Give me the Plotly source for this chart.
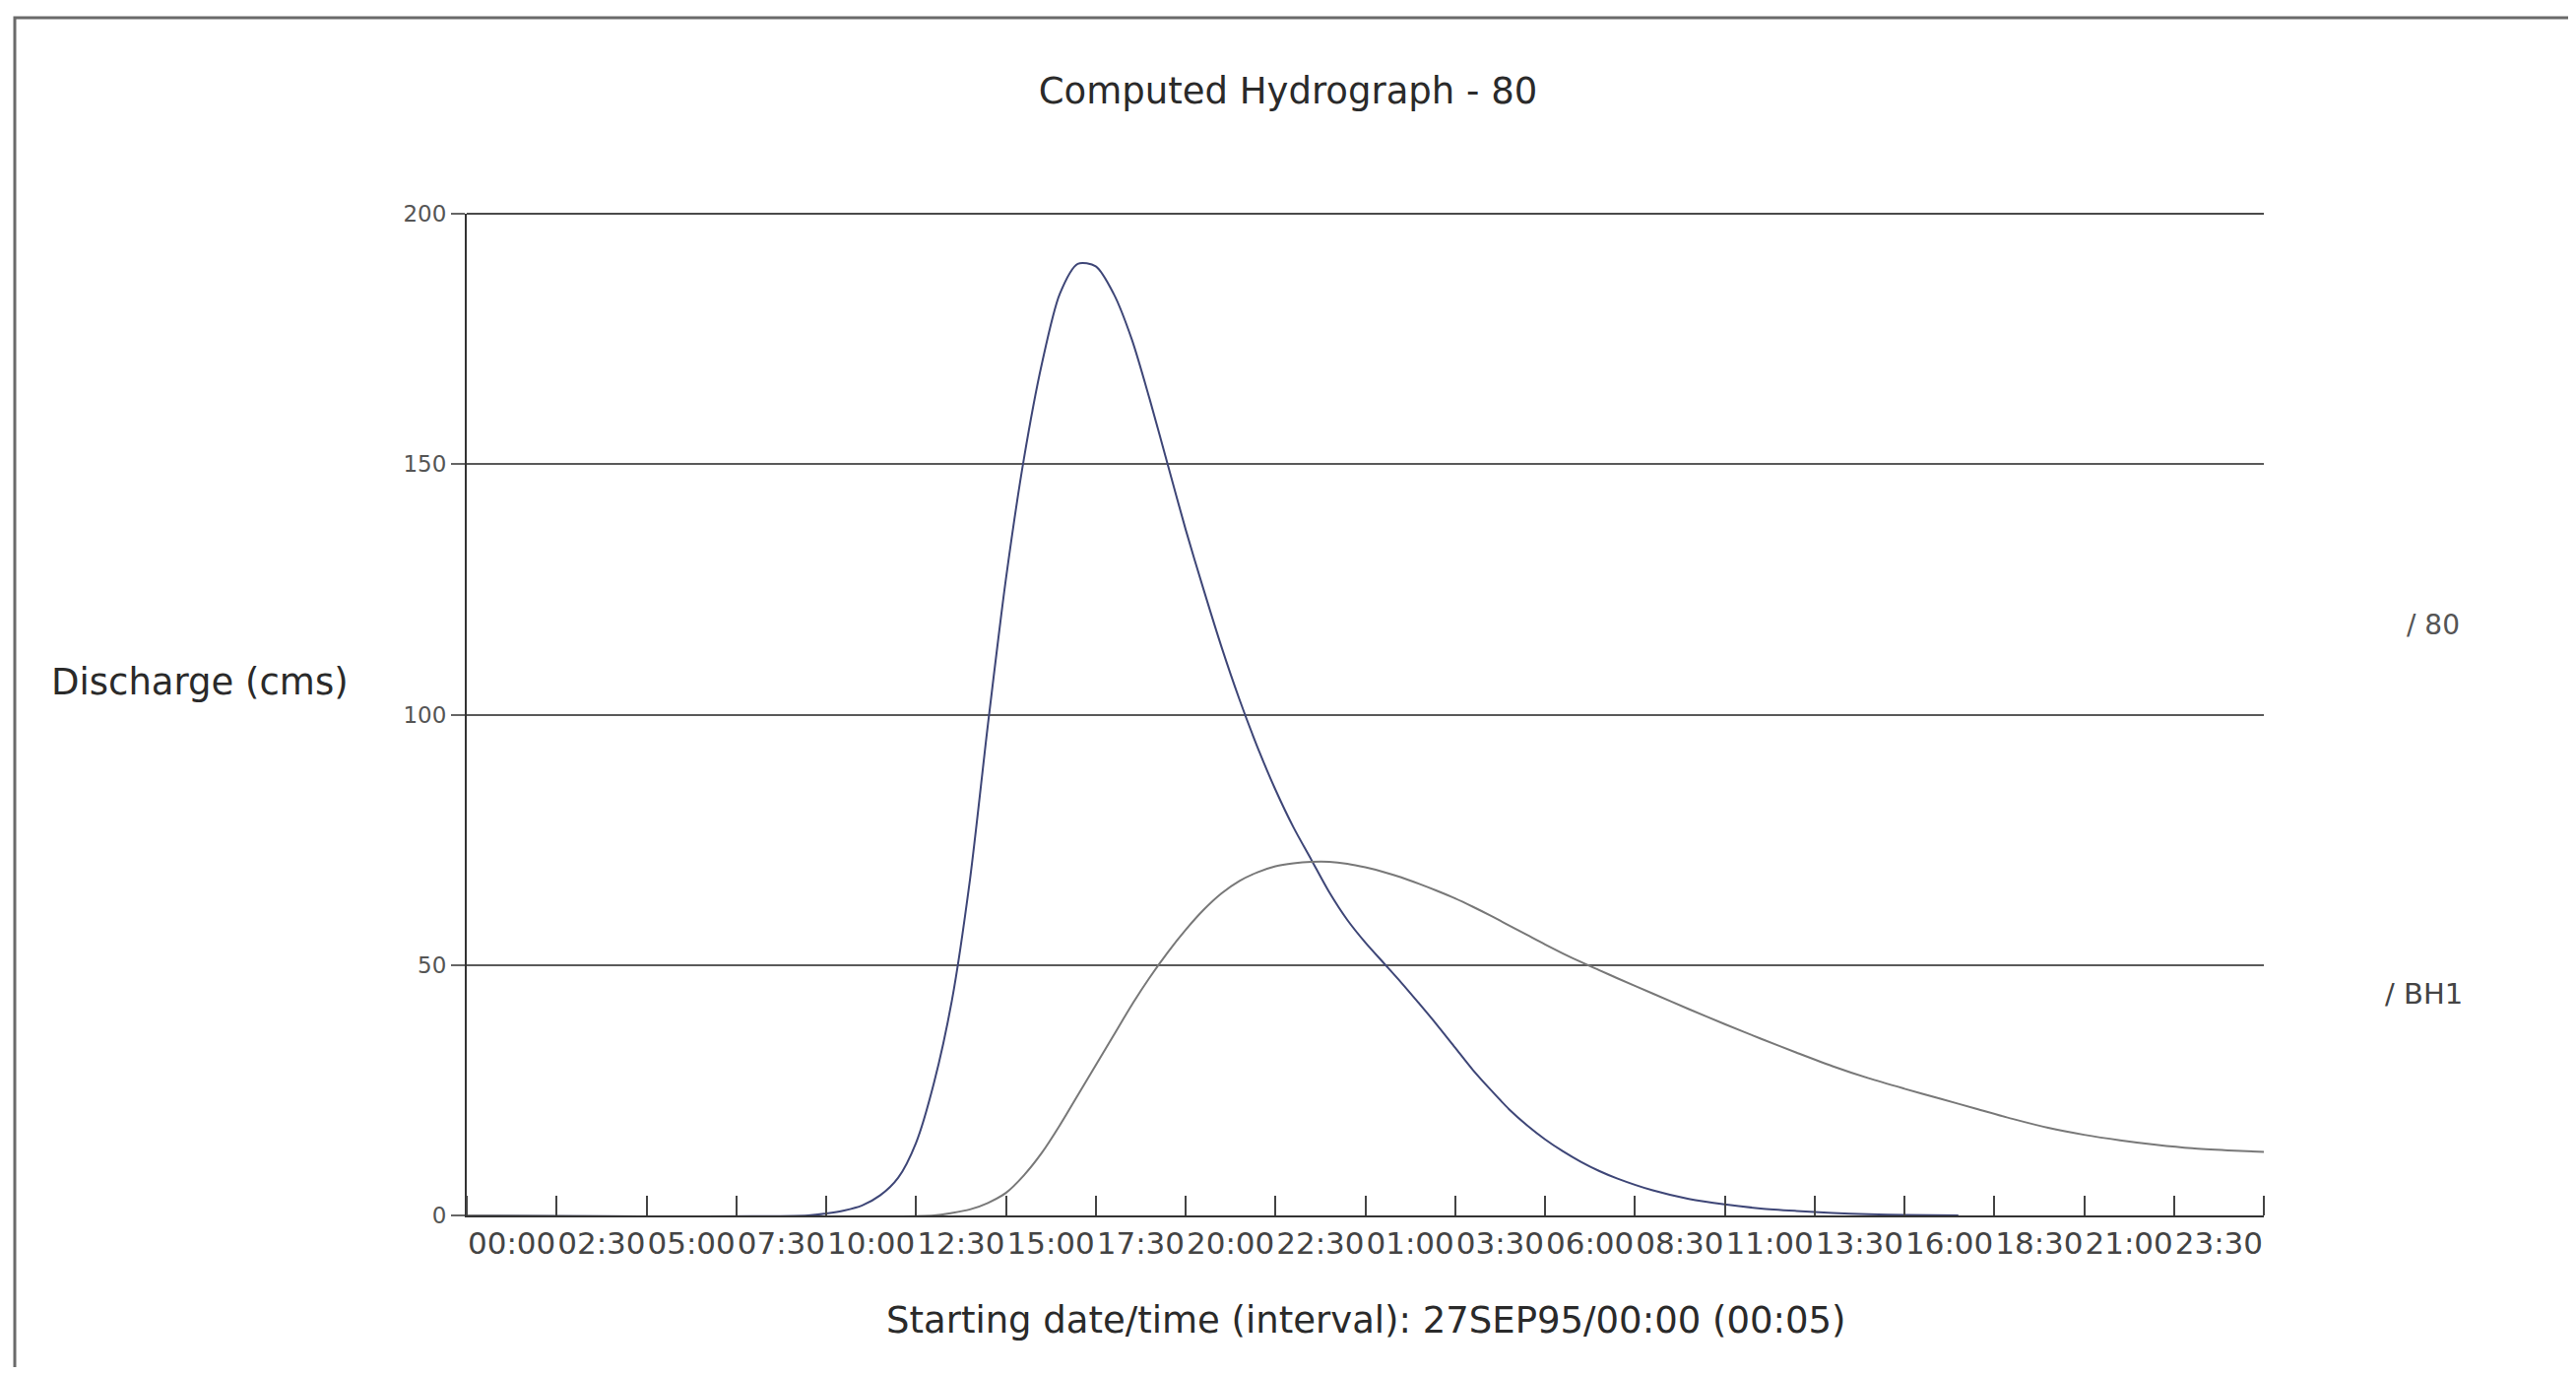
import plotly.graph_objects as go

# ---- data (hours from 27SEP95 00:00, discharge in cms) ----
hours_80 = [0, 9.5, 10.0, 10.5, 11.0, 11.5, 12.0, 12.5, 13.0, 13.5, 14.0, 14.5, 15.0, 15.5,
            16.0, 16.5, 17.0, 17.5, 18.0, 18.5, 19.0, 19.5, 20.0, 20.5, 21.0, 21.5,
            22.0, 22.5, 23.0, 23.5, 24.0, 24.5, 25.0, 25.5, 26.0, 26.5, 27.0, 27.5, 28.0,
            28.5, 29.0, 29.5, 30.0, 30.5, 31.0, 31.5, 32.0, 33.0, 34.0, 35.0, 36.0, 37.0,
            38.0, 39.0, 40.0, 41.5]
flow_80 = [0, 0, 0.4, 1.0, 2.0, 4.0, 7.5, 14.5, 26.5, 43, 67, 98, 127, 151,
           170, 184, 190, 189.5, 184, 175, 163, 150, 137, 125, 113.5, 103,
           93.5, 85, 77.5, 71, 64.5, 59, 54.5, 50.5, 46.5, 42.3, 38, 33.5, 29,
           25, 21.2, 18, 15.2, 12.8, 10.7, 8.9, 7.4, 5.0, 3.3, 2.2, 1.4, 0.9,
           0.5, 0.25, 0.1, 0]

hours_bh1 = [0, 13.0, 13.5, 14.0, 14.5, 15.0, 15.5, 16.0, 16.5, 17.0, 17.5, 18.0, 18.5,
             19.0, 19.5, 20.0, 20.5, 21.0, 21.5, 22.0, 22.5, 23.0, 23.5, 24.0, 24.5, 25.0,
             25.5, 26.0, 26.5, 27.0, 27.5, 28.0, 28.5, 29.0, 29.5, 30.0, 30.5, 31.0, 31.5,
             32.0, 33.0, 34.0, 35.0, 36.0, 37.0, 38.0, 39.0, 40.0, 41.0, 42.0, 43.0, 44.0,
             45.0, 46.0, 47.0, 48.0, 49.0, 50.0]
flow_bh1 = [0, 0, 0.5, 1.2, 2.5, 4.5, 8, 12.5, 18, 24, 30, 36, 42,
            47.5, 52.5, 57, 61, 64.3, 66.8, 68.5, 69.7, 70.3, 70.6, 70.6, 70.2, 69.5,
            68.6, 67.5, 66.2, 64.8, 63.3, 61.6, 59.8, 57.9, 56, 54.1, 52.3, 50.6, 49,
            47.4, 44.3, 41.2, 38.2, 35.3, 32.5, 29.8, 27.4, 25.3, 23.3, 21.3, 19.3, 17.5,
            16.1, 15.0, 14.1, 13.4, 13.0, 12.7]

tick_labels = ["00:00", "02:30", "05:00", "07:30", "10:00", "12:30", "15:00", "17:30",
               "20:00", "22:30", "01:00", "03:30", "06:00", "08:30", "11:00", "13:30",
               "16:00", "18:30", "21:00", "23:30"]
y_ticks = [0, 50, 100, 150, 200]

FONT = "DejaVu Sans"
OFF = 8                      # page body margin
W, H = 2616 - 2 * OFF, 1396 - 2 * OFF
L, R, T, B = 474 - OFF, 2299 - OFF, 217 - OFF, 1234 - OFF  # plot area (figure px)

def px_x(page_x):
    return (page_x - OFF - L) / (R - L)

def px_y(page_y):
    return (B - (page_y - OFF)) / (B - T)

fig = go.Figure()
fig.add_trace(go.Scatter(x=hours_80, y=flow_80, mode="lines", name="80",
                         line=dict(color="#3e4677", width=2, shape="spline", smoothing=0.8),
                         showlegend=False))
fig.add_trace(go.Scatter(x=hours_bh1, y=flow_bh1, mode="lines", name="BH1",
                         line=dict(color="#787878", width=2, shape="spline", smoothing=0.8),
                         showlegend=False))

step = 2.5
fig.update_layout(
    width=W, height=H,
    paper_bgcolor="white", plot_bgcolor="white",
    margin=dict(l=L, r=W - R, t=T, b=H - B, autoexpand=False),
    font=dict(family=FONT, color="#333333"),
    title=dict(text="Computed Hydrograph - 80", x=0.5, xref="container", xanchor="center",
               y=1 - (92 - OFF) / H, yref="container", yanchor="middle",
               font=dict(size=37, family=FONT, color="#2a2a2a")),
    xaxis=dict(range=[0, 50], showgrid=False, zeroline=False,
               showline=True, linecolor="#333333", linewidth=2,
               tickmode="array",
               tickvals=[step * k + step / 2 for k in range(len(tick_labels))],
               ticktext=tick_labels, ticks="", tickangle=0,
               tickfont=dict(size=31, family=FONT, color="#444444"),
               minor=dict(tickmode="array",
                          tickvals=[step * k for k in range(len(tick_labels) + 1)],
                          ticks="inside", ticklen=20, tickwidth=2, tickcolor="#444444",
                          showgrid=False)),
    yaxis=dict(range=[0, 200], tickmode="array", tickvals=y_ticks,
               showgrid=True, gridcolor="#5a5a5a", gridwidth=2, zeroline=False,
               showline=True, linecolor="#333333", linewidth=2,
               ticks="outside", ticklen=14, tickwidth=2, tickcolor="#666666",
               tickfont=dict(size=23, family=FONT, color="#555555")),
)

annotations = [
    dict(text="Discharge (cms)", x=px_x(50), y=px_y(692), xref="paper", yref="paper",
         xanchor="left", yanchor="middle", showarrow=False,
         font=dict(size=37, family=FONT, color="#2a2a2a")),
    dict(text="Starting date/time (interval): 27SEP95/00:00 (00:05)", x=0.5, y=px_y(1340),
         xref="paper", yref="paper", xanchor="center", yanchor="middle", showarrow=False,
         font=dict(size=37, family=FONT, color="#2a2a2a")),
    dict(text="/ 80", x=px_x(2442), y=px_y(634), xref="paper", yref="paper",
         xanchor="left", yanchor="middle", showarrow=False,
         font=dict(size=28, family=FONT, color="#555555")),
    dict(text="/ BH1", x=px_x(2420), y=px_y(1009), xref="paper", yref="paper",
         xanchor="left", yanchor="middle", showarrow=False,
         font=dict(size=29, family=FONT, color="#444444")),
]
fig.update_layout(annotations=annotations)

# top gridline at the upper range limit (paper-referenced so it is not clipped)
fig.add_shape(type="line", xref="paper", yref="paper", x0=0, x1=1, y0=1, y1=1,
              line=dict(color="#4a4a4a", width=2), layer="above")

# outer frame of the chart window
fig.add_shape(type="rect", xref="paper", yref="paper",
              x0=px_x(15), x1=px_x(2612), y0=px_y(1392), y1=px_y(18),
              line=dict(color="#6a6a6a", width=3), fillcolor="rgba(0,0,0,0)", layer="below")

fig.write_html("out.html")
